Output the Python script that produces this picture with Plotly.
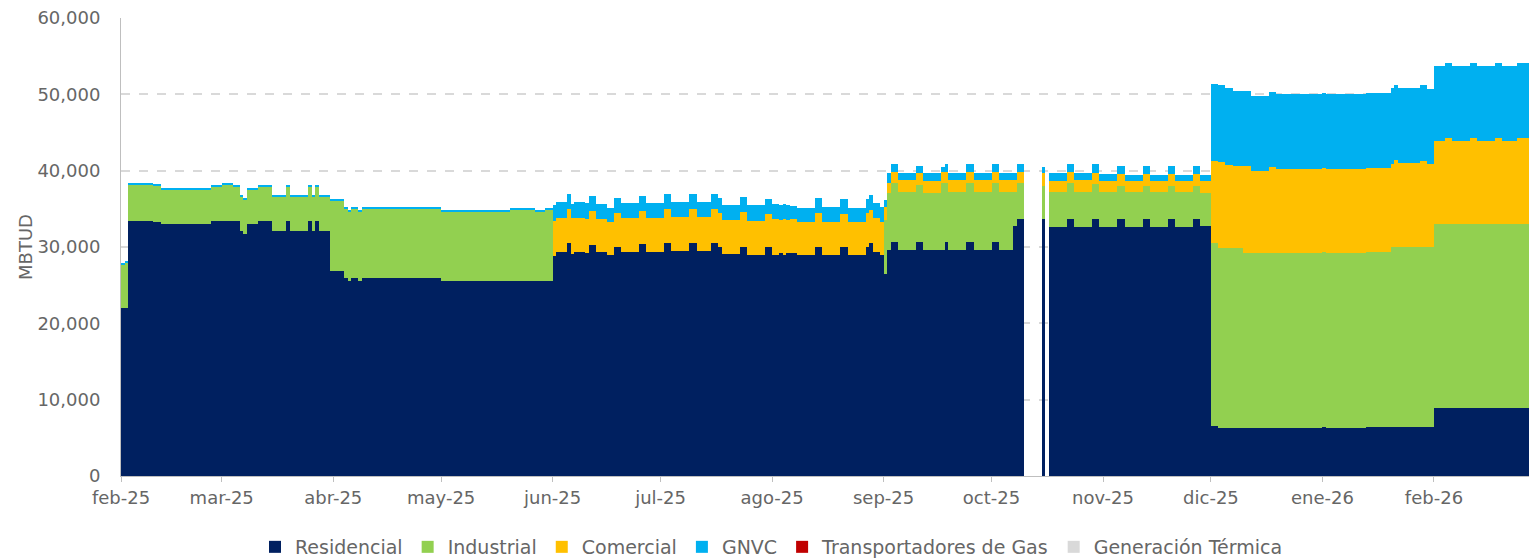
import numpy as np
import pandas as pd
import plotly.graph_objects as go

# ---------------- data (daily values, stored as runs of equal days) ----------------
start_date = "2025-02-01"

seg_len = [
    # feb-may 2025
    1, 1, 7, 2, 14, 3, 3, 2, 1, 1, 3, 4, 4, 1, 5, 1, 1, 1, 3, 4, 1, 1, 2, 1, 22, 19, 7, 3, 2,
    # jun-ago 2025
    1, 3, 1, 1, 3, 1, 2, 3, 2, 2, 5, 2, 5, 2, 5, 2, 4, 2, 1, 5, 2, 5, 2, 2, 1, 1, 1, 2, 5, 2, 5, 2, 5, 1, 1, 2, 1,
    # sep-nov 2025
    1, 1, 2, 5, 2, 5, 1, 1, 5, 2, 5, 2, 4, 1, 2, 5, 1, 1, 5, 2, 5, 2, 5, 2, 5, 2, 5, 2, 5, 2, 3,
    # dic 2025 - feb 2026
    2, 2, 2, 3, 2, 5, 2, 13, 1, 11, 7, 1, 1, 6, 2, 2, 3, 2, 5, 2, 5, 2, 4, 5,
]

residencial = [
    22000, 22000, 33450, 33300, 33010, 33450, 33450, 33450, 32130, 31700, 33010, 33450, 32130, 33450, 32130,
    33450, 32130, 33450, 32130, 26850, 25980, 25550, 25980, 25550, 25980, 25600, 25600, 25600, 25600,
    28860, 29380, 30480, 29080, 29380, 29250, 30260, 29380, 28950, 30040, 29380, 30350, 29380, 30480, 29480,
    30480, 29480, 30480, 30040, 29040, 30040, 28950, 30000, 28950, 29250, 28950, 29250, 29250, 28950, 30040,
    28950, 29960, 28950, 30040, 30480, 29380, 28950,
    26400, 29600, 30700, 29600, 30700, 29600, 29600, 30700, 29600, 30700, 29600, 30700, 29600, 32700, 33670,
    None, 33670, None, 32660, 33670, 32660, 33670, 32660, 33670, 32660, 33670, 32660, 33670, 32660, 33670, 32750,
    6580, 6350, 6350, 6350, 6280, 6280, 6280, 6280, 6400, 6280, 6440, 6440, 6440, 6440, 6440, 6440,
    8910, 8910, 8910, 8910, 8910, 8910, 8910, 8910,
]

industrial = [
    5650, 5920, 4740, 4750, 4480, 4480, 4740, 4430, 4520, 4530, 4480, 4480, 4520, 4480, 4520,
    4480, 4520, 4480, 4440, 9290, 9070, 9060, 9070, 9060, 9070, 9010, 9270, 9010, 9270,
    0, 0, 0, 0, 0, 0, 0, 0, 0, 0, 0, 0, 0, 0, 0,
    0, 0, 0, 0, 0, 0, 0, 0, 0, 0, 0, 0, 0, 0, 0,
    0, 0, 0, 0, 0, 0, 0,
    7140, 7430, 7720, 7650, 7420, 7520, 8740, 7640, 7650, 7720, 7650, 7720, 7650, 4550, 4670,
    None, 4360, None, 4590, 4670, 4590, 4540, 4590, 4360, 4590, 4360, 4590, 4360, 4590, 4360, 4280,
    23880, 23530, 23530, 23530, 22950, 22950, 22950, 22950, 22900, 22950, 22920, 23500, 23500, 23500, 23500, 23500,
    24090, 24090, 24090, 24090, 24090, 24090, 24090, 24090,
]

comercial = [
    0, 0, 0, 0, 0, 0, 0, 0, 0, 0, 0, 0, 0, 0, 0,
    0, 0, 0, 0, 0, 0, 0, 0, 0, 0, 0, 0, 0, 0,
    4590, 4460, 4460, 4760, 4460, 4420, 4460, 4290, 4360, 4370, 4380, 4370, 4380, 4460, 4410,
    4460, 4410, 4460, 4370, 4500, 4590, 4500, 4350, 4680, 4300, 4680, 4300, 4380, 4360, 4370,
    4360, 4320, 4360, 4370, 4370, 4380, 4360,
    1660, 1390, 1440, 1530, 1530, 1530, 1520, 1520, 1530, 1440, 1530, 1440, 1530, 1530, 1520,
    None, 1620, None, 1440, 1520, 1530, 1520, 1440, 1530, 1400, 1530, 1400, 1530, 1400, 1530, 1620,
    10840, 11290, 10860, 10730, 11380, 10770, 11250, 10950, 11000, 10950, 11030, 10970, 11490, 11060, 11320, 10890,
    10880, 11320, 10880, 11320, 10880, 11320, 10880, 11320,
]

gnvc = [
    150, 150, 150, 150, 150, 150, 150, 150, 150, 150, 150, 150, 150, 150, 150,
    150, 150, 150, 150, 150, 150, 150, 150, 150, 150, 150, 150, 150, 150,
    2050, 2010, 1960, 1790, 2100, 2030, 1960, 1920, 1840, 1970, 1960, 1960, 1960, 1960, 1960,
    1960, 2050, 2000, 1970, 1960, 1970, 2050, 1900, 2000, 1890, 2000, 1900, 1740, 1760, 1970,
    1890, 2010, 1840, 1840, 1920, 1960, 1890,
    960, 1230, 1010, 950, 960, 1080, 640, 1010, 950, 1010, 950, 1010, 950, 950, 1010,
    None, 870, None, 1040, 1040, 950, 1100, 830, 1050, 780, 1050, 780, 1050, 780, 1050, 780,
    10050, 10050, 10050, 9870, 9870, 9780, 9780, 9820, 9850, 9820, 9820, 9880, 9790, 9790, 9960, 9830,
    9870, 9820, 9870, 9820, 9870, 9820, 9870, 9820,
]

transportadores = [0] * len(seg_len)
generacion = [0] * len(seg_len)

tick_dates = ["2025-02-01", "2025-03-01", "2025-04-01", "2025-05-01", "2025-06-01", "2025-07-01",
              "2025-08-01", "2025-09-01", "2025-10-01", "2025-11-01", "2025-12-01", "2026-01-01",
              "2026-02-01"]
tick_labels = ["feb-25", "mar-25", "abr-25", "may-25", "jun-25", "jul-25", "ago-25", "sep-25",
               "oct-25", "nov-25", "dic-25", "ene-26", "feb-26"]

series_names = ["Residencial", "Industrial", "Comercial", "GNVC", "Transportadores de Gas", "Generación Térmica"]
series_colors = ["#002060", "#92D050", "#FFC000", "#00B0F0", "#C00000", "#D9D9D9"]

# ---------------- build ----------------
lens = np.array(seg_len)


def expand(v):
    arr = np.array([np.nan if x is None else x for x in v], dtype=float)
    return np.repeat(arr, lens)


dates = pd.date_range(start_date, periods=int(lens.sum()), freq="D") + pd.Timedelta(hours=12)

fig = go.Figure()
for name, color, vals in zip(series_names, series_colors,
                             [residencial, industrial, comercial, gnvc, transportadores, generacion]):
    y = expand(vals)
    fig.add_trace(go.Bar(
        x=dates, y=[None if np.isnan(v) else v for v in y], name=name,
        marker=dict(color=color, line=dict(width=0)),
    ))

grey = "#666666"
fig.update_layout(
    width=1529, height=560,
    margin=dict(l=121, r=0, t=18, b=84, autoexpand=False),
    barmode="stack", bargap=0,
    plot_bgcolor="white", paper_bgcolor="white",
    font=dict(family="DejaVu Sans, sans-serif", size=18, color=grey),
    legend=dict(orientation="h", x=0.462, xanchor="center", y=-0.155, yanchor="middle",
                traceorder="normal", font=dict(size=19, color=grey)),
    showlegend=True,
)
fig.update_xaxes(
    type="date", range=["2025-02-01", "2026-02-27 10:00"],
    tickmode="array", tickvals=tick_dates, ticktext=tick_labels,
    showline=True, linecolor="#BFBFBF", linewidth=1,
    ticks="outside", tickcolor="#BFBFBF", ticklen=5,
    showgrid=False, zeroline=False, automargin=False,
)
fig.update_yaxes(
    range=[0, 60000], dtick=10000, tickformat=",",
    showgrid=True, gridcolor="#D9D9D9", griddash="dash", gridwidth=1.5,
    showline=True, linecolor="#BFBFBF", linewidth=1,
    zeroline=False, ticks="", ticklabelstandoff=16, automargin=False,
    title=dict(text="MBTUD", standoff=0, font=dict(size=18, color=grey)),
)

fig.write_html("out.html", config={"displayModeBar": False},
               post_script="document.body.style.margin='0px';")
